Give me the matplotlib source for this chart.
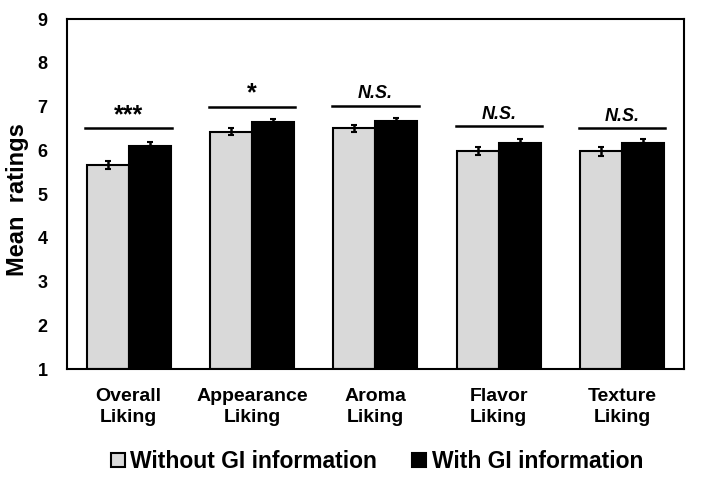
import matplotlib
matplotlib.use("Agg")
import matplotlib.pyplot as plt
import numpy as np
from matplotlib.lines import Line2D

plt.rcParams['font.family'] = ['Liberation Sans', 'DejaVu Sans']
plt.rcParams['font.weight'] = 'bold'

categories = ["Overall\nLiking", "Appearance\nLiking", "Aroma\nLiking", "Flavor\nLiking", "Texture\nLiking"]
without_gi = [5.66, 6.42, 6.50, 5.99, 5.98]
with_gi = [6.10, 6.64, 6.68, 6.17, 6.16]
err_without = [0.09, 0.08, 0.08, 0.09, 0.10]
err_with = [0.10, 0.08, 0.06, 0.09, 0.09]
sig_labels = ["***", "*", "N.S.", "N.S.", "N.S."]
sig_heights = [6.50, 7.00, 7.02, 6.55, 6.50]
series_names = ["Without GI information", "With GI information"]

fig = plt.figure(figsize=(7.05, 4.84), dpi=100)
ax = fig.add_axes([0.095, 0.2376, 0.875, 0.7231])

x = np.arange(len(categories))
w = 0.34
ax.bar(x - w/2, np.array(without_gi) - 1, w, bottom=1, color='#d9d9d9', edgecolor='black', linewidth=1.5)
ax.bar(x + w/2, np.array(with_gi) - 1, w, bottom=1, color='black', edgecolor='black', linewidth=1.5)
ax.errorbar(x - w/2, without_gi, yerr=err_without, fmt='none', ecolor='black', elinewidth=1.8, capsize=2.5, capthick=1.5)
ax.errorbar(x + w/2, np.array(with_gi), yerr=[np.zeros(5), err_with], fmt='none', ecolor='black', elinewidth=1.8, capsize=2.5, capthick=1.5)

for xi, lab, h in zip(x, sig_labels, sig_heights):
    ax.plot([xi - w - 0.01, xi + w + 0.01], [h, h], color='black', lw=1.8)
    if lab.startswith('*'):
        ax.text(xi, h + 0.03, lab, ha='center', va='bottom', fontsize=18, fontweight='bold')
    else:
        ax.text(xi, h + 0.08, lab, ha='center', va='bottom', fontsize=13, fontweight='bold', style='italic')

ax.set_xlim(-0.5, 4.5)
ax.set_ylim(1, 9)
ax.set_yticks(range(1, 10))
ax.set_xticks(x)
ax.set_xticklabels(categories, fontsize=14, fontweight='bold', linespacing=1.3)
ax.tick_params(axis='both', length=0)
ax.tick_params(axis='y', labelsize=13, pad=14)
ax.tick_params(axis='x', pad=14)
for s in ax.spines.values():
    s.set_linewidth(1.5)
ax.set_ylabel("Mean  ratings", fontsize=17, fontweight='bold')
ax.yaxis.set_label_coords(-0.062, 0.483)

handles = [
    Line2D([], [], marker='s', linestyle='none', markersize=10.5, markerfacecolor='#d9d9d9', markeredgecolor='black', markeredgewidth=1.5),
    Line2D([], [], marker='s', linestyle='none', markersize=10.5, markerfacecolor='black', markeredgecolor='black', markeredgewidth=1.5),
]
fig.legend(handles, series_names, loc='center', bbox_to_anchor=(0.534, 0.046), ncol=2, frameon=False,
           prop={'size': 16.5, 'weight': 'bold'}, handletextpad=0.2, columnspacing=1.5, handlelength=0.7)

fig.savefig("out.png", dpi=100)
